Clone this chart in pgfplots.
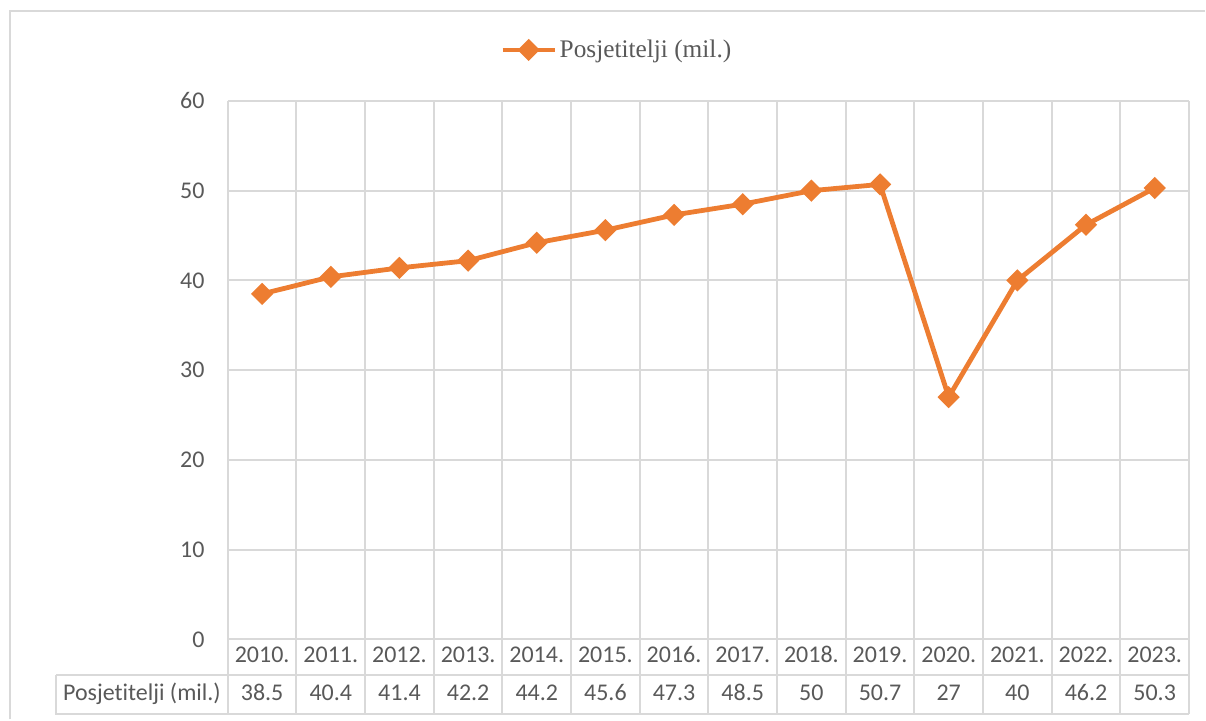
\documentclass[border=0pt]{standalone}
\usepackage{pgfplots}
\pgfplotsset{compat=1.18}
\usepackage{fontspec}
\setmainfont{Carlito}[Ligatures=NoCommon]
\newfontfamily\legendfont{Liberation Serif}
\definecolor{lineorange}{HTML}{ED7D31}
\definecolor{txtgray}{HTML}{595959}
\definecolor{gridgray}{HTML}{D9D9D9}
\newcommand{\lbl}{\fontsize{18}{21}\selectfont}
\tikzset{cell/.style={font=\lbl, text=txtgray, text height=12pt, text depth=3pt, inner sep=0pt}}
\begin{document}
\begin{tikzpicture}
\begin{axis}[
    scale only axis, width=721.5pt, height=404.25pt,
    xmin=-0.5, xmax=13.5, ymin=0, ymax=60,
    xtick={-0.5,0.5,...,13.5}, xticklabels={},
    ytick={0,10,...,60},
    major tick length=0pt,
    xmajorgrids, ymajorgrids,
    grid style={gridgray, line width=1.5pt},
    axis line style={draw=none},
    tick label style={font=\lbl, text=txtgray},
    yticklabel style={xshift=-14pt},
    /pgf/number format/assume math mode=true,
    clip=false,
    legend style={at={(0.405,1.0946)}, anchor=center, draw=none, fill=none,
        font=\legendfont\fontsize{19}{22}\selectfont, text=txtgray,
        inner sep=0pt},
    legend image code/.code={
        \draw[mark repeat=2, mark phase=2] plot coordinates {(0pt,0pt) (19.5pt,0pt) (39pt,0pt)};},
]
% data table grid
\draw[gridgray, line width=1.5pt] (axis cs:-0.5,-8.35) -- (axis cs:13.5,-8.35);
\draw[gridgray, line width=1.5pt] (axis cs:-3,-4) -- (axis cs:13.5,-4);
\draw[gridgray, line width=1.5pt] (axis cs:-3,-4) -- (axis cs:-3,-8.35) -- (axis cs:-0.5,-8.35);
\foreach \k in {-0.5,0.5,...,13.5} {
    \edef\tmp{\noexpand\draw[gridgray, line width=1.5pt] (axis cs:\k,0) -- (axis cs:\k,-8.35);}
    \tmp
}
\addplot[lineorange, line width=3.6pt, mark=square*, mark size=4.1pt,
    mark options={rotate=45, solid}] coordinates {
    (0,38.5) (1,40.4) (2,41.4) (3,42.2) (4,44.2) (5,45.6) (6,47.3)
    (7,48.5) (8,50) (9,50.7) (10,27) (11,40) (12,46.2) (13,50.3)
};
\addlegendentry{Posjetitelji (mil.)}
% year row
\node[cell] at (axis cs:0,-1.95) {2010.};
\node[cell] at (axis cs:1,-1.95) {2011.};
\node[cell] at (axis cs:2,-1.95) {2012.};
\node[cell] at (axis cs:3,-1.95) {2013.};
\node[cell] at (axis cs:4,-1.95) {2014.};
\node[cell] at (axis cs:5,-1.95) {2015.};
\node[cell] at (axis cs:6,-1.95) {2016.};
\node[cell] at (axis cs:7,-1.95) {2017.};
\node[cell] at (axis cs:8,-1.95) {2018.};
\node[cell] at (axis cs:9,-1.95) {2019.};
\node[cell] at (axis cs:10,-1.95) {2020.};
\node[cell] at (axis cs:11,-1.95) {2021.};
\node[cell] at (axis cs:12,-1.95) {2022.};
\node[cell] at (axis cs:13,-1.95) {2023.};
% value row
\node[cell] at (axis cs:-1.75,-6.15) {Posjetitelji (mil.)};
\node[cell] at (axis cs:0,-6.15) {38.5};
\node[cell] at (axis cs:1,-6.15) {40.4};
\node[cell] at (axis cs:2,-6.15) {41.4};
\node[cell] at (axis cs:3,-6.15) {42.2};
\node[cell] at (axis cs:4,-6.15) {44.2};
\node[cell] at (axis cs:5,-6.15) {45.6};
\node[cell] at (axis cs:6,-6.15) {47.3};
\node[cell] at (axis cs:7,-6.15) {48.5};
\node[cell] at (axis cs:8,-6.15) {50};
\node[cell] at (axis cs:9,-6.15) {50.7};
\node[cell] at (axis cs:10,-6.15) {27};
\node[cell] at (axis cs:11,-6.15) {40};
\node[cell] at (axis cs:12,-6.15) {46.2};
\node[cell] at (axis cs:13,-6.15) {50.3};
\end{axis}
% outer chart frame
\draw[gridgray, line width=1.5pt] (-163.5pt,-60pt) -- (-163.5pt,471.75pt) -- (733.5pt,471.75pt);
\path[use as bounding box] (-171pt,-60pt) rectangle (733.5pt,480pt);
\end{tikzpicture}
\end{document}
